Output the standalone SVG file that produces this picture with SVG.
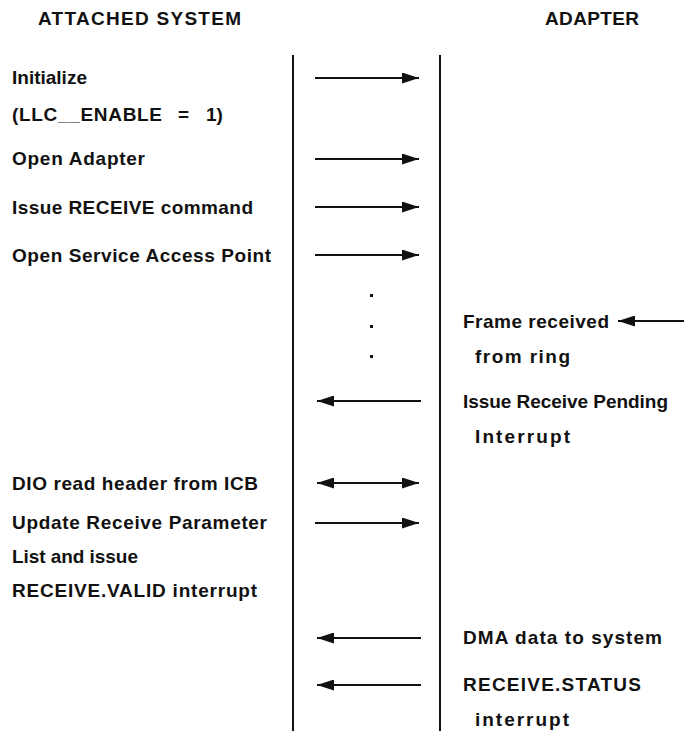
<svg xmlns="http://www.w3.org/2000/svg" width="684" height="731" viewBox="0 0 684 731">
  <style>
    text { font-family: "Liberation Sans", Arial, sans-serif; font-weight: bold; font-size: 19px; fill: #111; }
    .lane { stroke: #111; stroke-width: 2; }
    .msg { stroke: #111; stroke-width: 2; fill: none; }
    .dot { fill: #111; }
  </style>
  <defs>
    <marker id="head" viewBox="0 0 17 11" refX="17" refY="5.5" markerWidth="17" markerHeight="11" markerUnits="userSpaceOnUse" orient="auto-start-reverse">
      <path d="M0,0 L17,5.5 L0,11 Z" fill="#111"/>
    </marker>
  </defs>

  <rect width="684" height="731" fill="#fff"/>

  <!-- column headings -->
  <g id="header-system"><text x="38" y="25" textLength="203" lengthAdjust="spacing">ATTACHED SYSTEM</text></g>
  <g id="header-adapter"><text x="545" y="25" textLength="94" lengthAdjust="spacing">ADAPTER</text></g>

  <!-- lane boundaries -->
  <g id="lanes">
    <line class="lane" x1="293" y1="55" x2="293" y2="731"/>
    <line class="lane" x1="440" y1="55" x2="440" y2="731"/>
  </g>

  <!-- attached system steps -->
  <g id="step-initialize">
    <text x="12" y="84">Initialize</text>
    <text x="12" y="121" textLength="150" lengthAdjust="spacing">(LLC__ENABLE</text>
    <text x="178" y="121">=</text>
    <text x="206" y="121">1)</text>
  </g>
  <g id="step-open-adapter"><text x="12" y="165" textLength="133" lengthAdjust="spacing">Open Adapter</text></g>
  <g id="step-issue-receive"><text x="12" y="214" textLength="241" lengthAdjust="spacing">Issue RECEIVE command</text></g>
  <g id="step-open-sap"><text x="12" y="262" textLength="259" lengthAdjust="spacing">Open Service Access Point</text></g>
  <g id="step-dio-read"><text x="12" y="490" textLength="246" lengthAdjust="spacing">DIO read header from ICB</text></g>
  <g id="step-update-list">
    <text x="12" y="529" textLength="255" lengthAdjust="spacing">Update Receive Parameter</text>
    <text x="12" y="563" textLength="126" lengthAdjust="spacing">List and issue</text>
    <text x="12" y="597" textLength="245" lengthAdjust="spacing">RECEIVE.VALID interrupt</text>
  </g>

  <!-- adapter steps -->
  <g id="step-frame-received">
    <text x="463" y="328" textLength="146" lengthAdjust="spacing">Frame received</text>
    <text x="475" y="363" textLength="95" lengthAdjust="spacing">from ring</text>
  </g>
  <g id="step-receive-pending">
    <text x="463" y="408" textLength="205" lengthAdjust="spacing">Issue Receive Pending</text>
    <text x="475" y="443" textLength="95" lengthAdjust="spacing">Interrupt</text>
  </g>
  <g id="step-dma"><text x="463" y="644" textLength="199" lengthAdjust="spacing">DMA data to system</text></g>
  <g id="step-receive-status">
    <text x="463" y="691" textLength="178" lengthAdjust="spacing">RECEIVE.STATUS</text>
    <text x="475" y="726" textLength="94" lengthAdjust="spacing">interrupt</text>
  </g>

  <!-- elapsed time -->
  <g id="ellipsis">
    <rect class="dot" x="370" y="294" width="3" height="3"/>
    <rect class="dot" x="370" y="325" width="3" height="3"/>
    <rect class="dot" x="370" y="355" width="3" height="3"/>
  </g>

  <!-- message arrows -->
  <g id="connectors">
    <line class="msg" x1="315" y1="78" x2="419" y2="78" marker-end="url(#head)"/>
    <line class="msg" x1="315" y1="159" x2="419" y2="159" marker-end="url(#head)"/>
    <line class="msg" x1="315" y1="207" x2="419" y2="207" marker-end="url(#head)"/>
    <line class="msg" x1="315" y1="255" x2="419" y2="255" marker-end="url(#head)"/>
    <line class="msg" x1="684" y1="321" x2="618" y2="321" marker-end="url(#head)"/>
    <line class="msg" x1="421" y1="401" x2="317" y2="401" marker-end="url(#head)"/>
    <line class="msg" x1="317" y1="483" x2="419" y2="483" marker-start="url(#head)" marker-end="url(#head)"/>
    <line class="msg" x1="315" y1="523" x2="419" y2="523" marker-end="url(#head)"/>
    <line class="msg" x1="421" y1="638" x2="317" y2="638" marker-end="url(#head)"/>
    <line class="msg" x1="421" y1="685" x2="317" y2="685" marker-end="url(#head)"/>
  </g>
</svg>
